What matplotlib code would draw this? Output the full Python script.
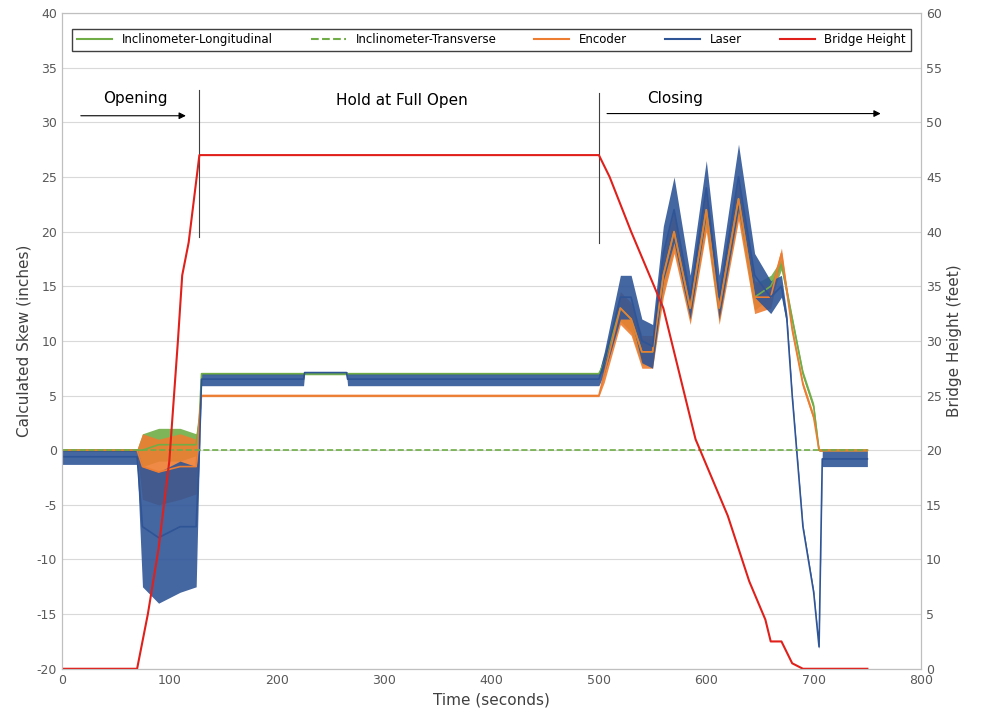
import numpy as np
import matplotlib.pyplot as plt

plt.rcParams['axes.unicode_minus'] = False

# bridge height (feet, right axis)
h_t = [0, 70, 80, 90, 100, 108, 112, 118, 128, 500, 510, 530, 560, 590, 620, 640, 655, 660, 670, 680, 690, 750]
h_v = [0, 0, 5, 11, 19, 30, 36, 39, 47, 47, 45, 40, 33, 21, 14, 8, 4.5, 2.5, 2.5, 0.5, 0, 0]

# laser: centre line and half band width (inches)
la_t = [0, 70, 75, 90, 110, 125, 128, 130, 225, 226, 265, 266, 500, 505, 520, 530, 540, 550, 560, 570, 585, 600, 612, 630, 645, 660, 670, 675, 680, 690, 700, 705, 708, 750]
la_c = [-0.6, -0.6, -7, -8, -7, -7, 0, 6.5, 6.5, 7.1, 7.1, 6.5, 6.5, 8, 14, 14, 10, 9.5, 18, 22, 14, 24, 14, 25, 16, 14, 15, 12, 5, -7, -13, -18, -0.8, -0.8]
la_w = [0.7, 0.7, 5.5, 6, 6, 5.5, 0.5, 0.6, 0.6, 0.1, 0.1, 0.6, 0.6, 1, 2, 2, 2, 2, 2.5, 3, 2, 2.5, 2, 3, 2, 1.5, 1, 0.5, 0.2, 0.2, 0.2, 0.2, 0.7, 0.7]

# encoder
en_t = [0, 70, 75, 90, 110, 125, 128, 130, 500, 505, 520, 530, 540, 550, 560, 570, 585, 600, 612, 630, 645, 660, 670, 680, 690, 700, 705, 750]
en_c = [0, 0, -1.5, -2, -1.5, -1.5, 3, 5, 5, 7, 13, 12, 9, 9, 16, 20, 13, 22, 13, 23, 14, 14, 18, 11, 6, 3, 0, 0]
en_w = [0.1, 0.1, 3, 3, 3, 2.5, 0.5, 0.1, 0.1, 0.8, 1.5, 1.5, 1.5, 1.5, 2, 2, 1.5, 2, 1.5, 2, 1.5, 1, 0.5, 0.4, 0.3, 0.3, 0.1, 0.1]

# inclinometer longitudinal
il_t = [0, 70, 75, 90, 110, 125, 128, 130, 500, 505, 520, 530, 540, 550, 560, 570, 585, 600, 612, 630, 645, 660, 670, 680, 690, 700, 705, 750]
il_c = [0, 0, 0, 0.5, 0.5, 0.5, 3, 7, 7, 8, 13, 12, 9, 9, 16, 20, 13, 22, 13, 23, 14, 15, 17, 12, 7, 4, 0, 0]
il_w = [0.1, 0.1, 1.5, 1.5, 1.5, 1, 0.5, 0.1, 0.1, 0.8, 1.2, 1.2, 1.2, 1.2, 1.5, 1.5, 1.2, 1.5, 1.2, 1.5, 1.2, 1, 0.5, 0.3, 0.3, 0.3, 0.1, 0.1]

# inclinometer transverse
it_t = [0, 130, 750]
it_v = [0, 0, 0]

green = '#70ad47'
orange = '#ed7d31'
blue = '#2f5597'
red = '#e0201b'

fig, ax = plt.subplots(figsize=(9.83, 7.23), dpi=100)
ax2 = ax.twinx()

def band(t, c, w, col, lw):
    t = np.array(t); c = np.array(c); w = np.array(w)
    ax.fill_between(t, c - w, c + w, color=col, lw=0, alpha=0.9)
    ax.plot(t, c, color=col, lw=lw)

band(il_t, il_c, il_w, green, 1.2)
band(en_t, en_c, en_w, orange, 1.2)
band(la_t, la_c, la_w, blue, 1.2)
ax.plot(it_t, it_v, color=green, ls='--', lw=1.2)
ax2.plot(h_t, h_v, color=red, lw=1.5)

# legend proxies
hs = [plt.Line2D([], [], color=green, lw=1.5),
      plt.Line2D([], [], color=green, ls='--', lw=1.5),
      plt.Line2D([], [], color=orange, lw=1.5),
      plt.Line2D([], [], color=blue, lw=1.5),
      plt.Line2D([], [], color=red, lw=1.5)]
ax.legend(hs, ['Inclinometer-Longitudinal', 'Inclinometer-Transverse', 'Encoder', 'Laser', 'Bridge Height'],
          ncol=5, loc='upper center', bbox_to_anchor=(0.5, 0.985), fontsize=8.5, fancybox=False,
          edgecolor='#404040', framealpha=1, columnspacing=3.2, handlelength=3)

ax.set_xlim(0, 800)
ax.set_ylim(-20, 40)
ax2.set_ylim(0, 60)
ax.set_yticks(range(-20, 41, 5))
ax2.set_yticks(range(0, 61, 5))
ax.grid(axis='y', color='#d9d9d9', lw=0.8)
ax.set_axisbelow(True)
for a in (ax, ax2):
    for s in a.spines.values():
        s.set_color('#bfbfbf')
    a.tick_params(colors='#595959', labelsize=9, length=0)
ax.set_xlabel('Time (seconds)', fontsize=11, color='#404040')
ax.set_ylabel('Calculated Skew (inches)', fontsize=11, color='#404040')
ax2.set_ylabel('Bridge Height (feet)', fontsize=11, color='#404040')

ax.plot([128, 128], [19.5, 33], color='#404040', lw=0.8)
ax.plot([500, 500], [19, 32.7], color='#404040', lw=0.8)
ax.annotate('', xy=(118, 30.6), xytext=(15, 30.6), arrowprops=dict(arrowstyle='-|>', color='black', lw=0.8))
ax.annotate('', xy=(765, 30.8), xytext=(505, 30.8), arrowprops=dict(arrowstyle='-|>', color='black', lw=0.8))
ax.text(38, 31.8, 'Opening', fontsize=11)
ax.text(255, 31.6, 'Hold at Full Open', fontsize=11)
ax.text(545, 31.8, 'Closing', fontsize=11)

plt.subplots_adjust(left=0.063, right=0.937, top=0.982, bottom=0.075)
plt.savefig('out.png')
